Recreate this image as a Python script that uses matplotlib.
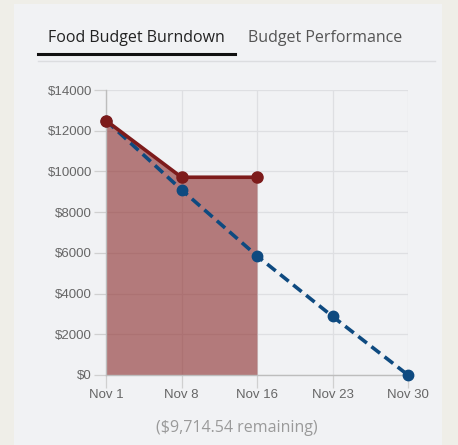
import matplotlib
matplotlib.use("Agg")
from matplotlib import pyplot as plt
from matplotlib.patches import Rectangle
from matplotlib.lines import Line2D

# data
dates = ["Nov 1", "Nov 8", "Nov 16", "Nov 23", "Nov 30"]
actual = [12500, 9714.54, 9714.54]
ideal = [12500, 9100, 5850, 2880, 0]
y_ticks = [0, 2000, 4000, 6000, 8000, 10000, 12000, 14000]
remaining = 9714.54

W, H = 458, 445
fig = plt.figure(figsize=(W / 100, H / 100), dpi=100)
fig.patch.set_facecolor("#efeee8")

# card panel
fig.patches.append(Rectangle((14 / W, 0), (442 - 14) / W, 1 - 4 / H,
                             transform=fig.transFigure, facecolor="#f1f2f4",
                             edgecolor="none", zorder=-5))

# tabs
tab_font = ["Open Sans", "DejaVu Sans"]
fig.text(48 / W, 1 - 38 / H, "Food Budget Burndown", family=tab_font, fontsize=11.5,
         color="#222222", va="center", ha="left")
fig.text(248 / W, 1 - 38 / H, "Budget Performance", family=tab_font, fontsize=11.5,
         color="#555555", va="center", ha="left")
fig.lines.append(Line2D([38 / W, 435 / W], [1 - 61 / H, 1 - 61 / H],
                        transform=fig.transFigure, color="#dcdde0", lw=1))
fig.lines.append(Line2D([38 / W, 235 / W], [1 - 54 / H, 1 - 54 / H],
                        transform=fig.transFigure, color="#111111", lw=2.2))

ax = fig.add_axes([106 / W, 1 - 375 / H, (408 - 106) / W, (375 - 90) / H])
ax.set_facecolor("none")
x_all = list(range(len(dates)))
x_act = x_all[:len(actual)]

ax.fill_between(x_act, actual, 0, color="#8b2a2a", alpha=0.6, lw=0, zorder=2)
ax.plot(x_all, ideal, color="#0e4a80", lw=2.6, ls=(0, (3, 1.6)), marker="o",
        ms=7.5, clip_on=False, zorder=3)
ax.plot(x_act, actual, color="#7d1b1b", lw=2.6, marker="o", ms=8,
        clip_on=False, zorder=4)

ax.set_xlim(0, len(dates) - 1)
ax.set_ylim(0, 14000)
ax.set_xticks(x_all)
ax.set_xticklabels(dates)
ax.set_yticks(y_ticks)
ax.set_yticklabels(["$" + str(v) for v in y_ticks])

ax.grid(True, color="#dedfe2", lw=0.9, zorder=1)
ax.set_axisbelow(True)
for side in ["top", "right"]:
    ax.spines[side].set_visible(False)
for side in ["left", "bottom"]:
    ax.spines[side].set_color("#bdbdbd")
    ax.spines[side].set_linewidth(1)
ax.tick_params(length=9, width=0.9, color="#d0d0d0", labelcolor="#666666", pad=1)
for lab in ax.get_xticklabels() + ax.get_yticklabels():
    lab.set_family(["Liberation Sans", "DejaVu Sans"])
    lab.set_fontsize(9.5)

fig.text(237 / W, 1 - 428 / H, "(${:,.2f} remaining)".format(remaining), family=tab_font,
         fontsize=11.5, color="#9a9a9a", ha="center", va="center")

fig.savefig("out.png", dpi=100, facecolor=fig.get_facecolor())
